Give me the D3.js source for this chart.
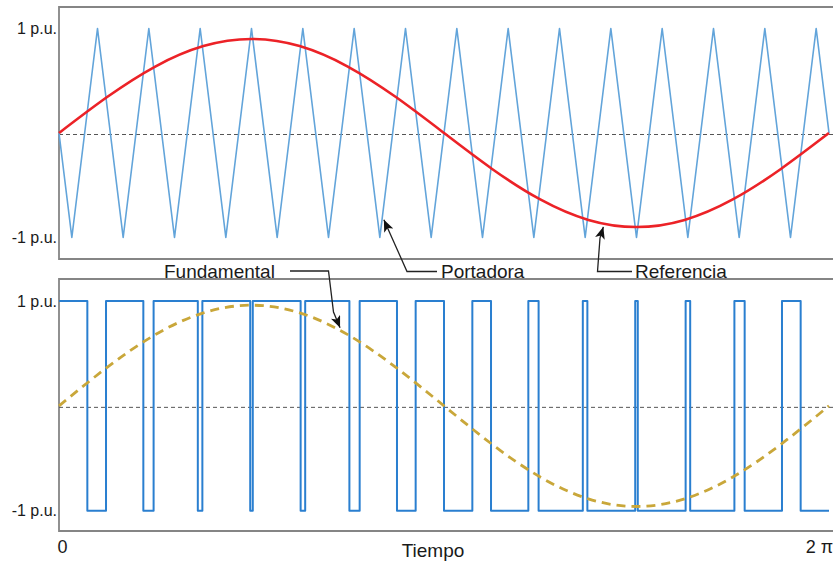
<!DOCTYPE html>
<html>
<head>
<meta charset="utf-8">
<script src="https://cdn.jsdelivr.net/npm/d3@7"></script>
<style>
  html, body { margin: 0; padding: 0; background: #fff; }
  svg { display: block; font-family: "Liberation Sans", Arial, sans-serif; }
</style>
</head>
<body>
<svg id="chart" width="833" height="562"></svg>
<script>
// ---------------- DATA ----------------
// angle (degrees, 0..360 = 0..2π)
const xTickValues = [0, 360];
const xTickLabels = ["0", "2 π"];
const yTickValues = [1, -1];
const yTickLabels = ["1 p.u.", "-1 p.u."];
const xTitle = "Tiempo";

// triangular carrier vertices (15 carrier periods)
const carrierAngle = [0, 6, 18, 30, 42, 54, 66, 78, 90, 102, 114, 126, 138, 150, 162, 174, 186, 198, 210, 222, 234, 246, 258, 270, 282, 294, 306, 318, 330, 342, 354, 360];
const carrierValue = [0, -1, 1, -1, 1, -1, 1, -1, 1, -1, 1, -1, 1, -1, 1, -1, 1, -1, 1, -1, 1, -1, 1, -1, 1, -1, 1, -1, 1, -1, 1, 0];

// sinusoidal reference samples (every 22.5°)
const refAngle = [0, 22.5, 45, 67.5, 90, 112.5, 135, 157.5, 180, 202.5, 225, 247.5, 270, 292.5, 315, 337.5, 360];
const refValue = [0, 0.344, 0.636, 0.832, 0.9, 0.832, 0.636, 0.344, 0, -0.344, -0.636, -0.832, -0.9, -0.832, -0.636, -0.344, 0];

// fundamental of the PWM output
const fundValue = [0, 0.367, 0.679, 0.887, 0.96, 0.887, 0.679, 0.367, 0, -0.367, -0.679, -0.887, -0.96, -0.887, -0.679, -0.367, 0];

// PWM output: switching angles and level after each switch
const pwmAngle = [0, 13.25, 21.98, 39.43, 44.23, 64.9, 67.03, 89.4, 90.6, 112.97, 115.1, 135.77, 140.57, 158.02, 166.75, 180, 193.25, 201.98, 219.43, 224.23, 244.9, 247.03, 269.4, 270.6, 292.97, 295.1, 315.77, 320.57, 338.02, 346.75, 360];
const pwmLevel = [1, -1, 1, -1, 1, -1, 1, -1, 1, -1, 1, -1, 1, -1, 1, -1, 1, -1, 1, -1, 1, -1, 1, -1, 1, -1, 1, -1, 1, -1, -1];

const annotationLabels = ["Portadora", "Referencia", "Fundamental"];

// ---------------- LAYOUT ----------------
const svg = d3.select("#chart");
const left = 59, right = 829, frameRight = 845;
const top1 = 7, bottom1 = 259, top2 = 279, bottom2 = 531;

const x = d3.scaleLinear().domain([0, 360]).range([left, right]);
const yTop = d3.scaleLinear().domain([-1, 1]).range([237.5, 28.5]);
const yBot = d3.scaleLinear().domain([-1, 1]).range([510.7, 301]);

const frameColor = "#858585";

// frames
[[top1, bottom1], [top2, bottom2]].forEach(([t, b]) => {
  svg.append("path")
    .attr("d", `M${frameRight},${t}H${left}V${b}H${frameRight}`)
    .attr("fill", "none").attr("stroke", frameColor).attr("stroke-width", 1.8);
});

// zero dashed lines
[yTop, yBot].forEach(y => {
  svg.append("line")
    .attr("x1", left).attr("x2", frameRight)
    .attr("y1", y(0) + 1.5).attr("y2", y(0) + 1.5)
    .attr("stroke", "#555").attr("stroke-width", 1).attr("stroke-dasharray", "4,3");
});

// y axes
[yTop, yBot].forEach(y => {
  const g = svg.append("g").attr("transform", `translate(${left},0)`)
    .call(d3.axisLeft(y).tickValues(yTickValues)
      .tickFormat((d, i) => yTickLabels[i]).tickSize(0).tickPadding(2));
  g.select(".domain").remove();
  g.selectAll("text").attr("font-size", 16).attr("fill", "#1a1a1a")
    .attr("font-family", "Liberation Sans, Arial, sans-serif");
});

// x axis labels
const xg = svg.append("g").attr("transform", `translate(0,${bottom2})`)
  .call(d3.axisBottom(x).tickValues(xTickValues)
    .tickFormat((d, i) => xTickLabels[i]).tickSize(0).tickPadding(9));
xg.select(".domain").remove();
xg.selectAll("text").attr("font-size", 18).attr("fill", "#1a1a1a")
  .attr("font-family", "Liberation Sans, Arial, sans-serif")
  .attr("dx", (d, i) => i === 0 ? 3 : -10);

svg.append("text").attr("x", 433).attr("y", 557)
  .attr("text-anchor", "middle").attr("font-size", 19).attr("fill", "#1a1a1a")
  .text(xTitle);

// carrier
const carrierPts = carrierAngle.map((a, i) => [a, carrierValue[i]]);
svg.append("path")
  .attr("d", d3.line().x(d => x(d[0])).y(d => yTop(d[1]))(carrierPts))
  .attr("fill", "none").attr("stroke", "#62a4da").attr("stroke-width", 1.6)
  .attr("stroke-linejoin", "round");

// reference
const refPts = refAngle.map((a, i) => [a, refValue[i]]);
svg.append("path")
  .attr("d", d3.line().x(d => x(d[0])).y(d => yTop(d[1])).curve(d3.curveNatural)(refPts))
  .attr("fill", "none").attr("stroke", "#ec2227").attr("stroke-width", 2.6);

// PWM output
const pwmPts = pwmAngle.map((a, i) => [a, pwmLevel[i]]);
svg.append("path")
  .attr("d", d3.line().x(d => x(d[0])).y(d => yBot(d[1])).curve(d3.curveStepAfter)(pwmPts))
  .attr("fill", "none").attr("stroke", "#2a7fd0").attr("stroke-width", 2)
  .attr("stroke-linejoin", "round");

// fundamental
const fundPts = refAngle.map((a, i) => [a, fundValue[i]]);
svg.append("path")
  .attr("d", d3.line().x(d => x(d[0])).y(d => yBot(d[1])).curve(d3.curveNatural)(fundPts))
  .attr("fill", "none").attr("stroke", "#c9a73a").attr("stroke-width", 2.8)
  .attr("stroke-dasharray", "9,6");

// arrow marker
svg.append("defs").append("marker")
  .attr("id", "arrow").attr("viewBox", "0 0 12 10")
  .attr("refX", 12).attr("refY", 5)
  .attr("markerWidth", 13).attr("markerHeight", 10)
  .attr("markerUnits", "userSpaceOnUse").attr("orient", "auto")
  .append("path").attr("d", "M0,0L12,5L0,10L3,5Z").attr("fill", "#111");

// annotations
const leaderStyle = p => p.attr("fill", "none").attr("stroke", "#222").attr("stroke-width", 1.3)
  .attr("marker-end", "url(#arrow)");

// Portadora
svg.append("path").attr("d", `M437,271.5H407L${x(151.9)},${yTop(-0.83)}`).call(leaderStyle);
svg.append("text").attr("x", 441).attr("y", 277.5).attr("font-size", 19).attr("fill", "#1a1a1a")
  .text(annotationLabels[0]);

// Referencia
svg.append("path").attr("d", `M632,271.5H597.5L600,238L${x(254.5)},${yTop(-0.898)}`).call(leaderStyle);
svg.append("text").attr("x", 635).attr("y", 277.5).attr("font-size", 19).attr("fill", "#1a1a1a")
  .text(annotationLabels[1]);

// Fundamental
svg.append("path").attr("d", `M290,271H328.5L333.5,312L${x(131.4)},${yBot(0.744)}`).call(leaderStyle);
svg.append("text").attr("x", 164).attr("y", 277.5).attr("font-size", 19).attr("fill", "#1a1a1a")
  .text(annotationLabels[2]);
</script>
</body>
</html>
